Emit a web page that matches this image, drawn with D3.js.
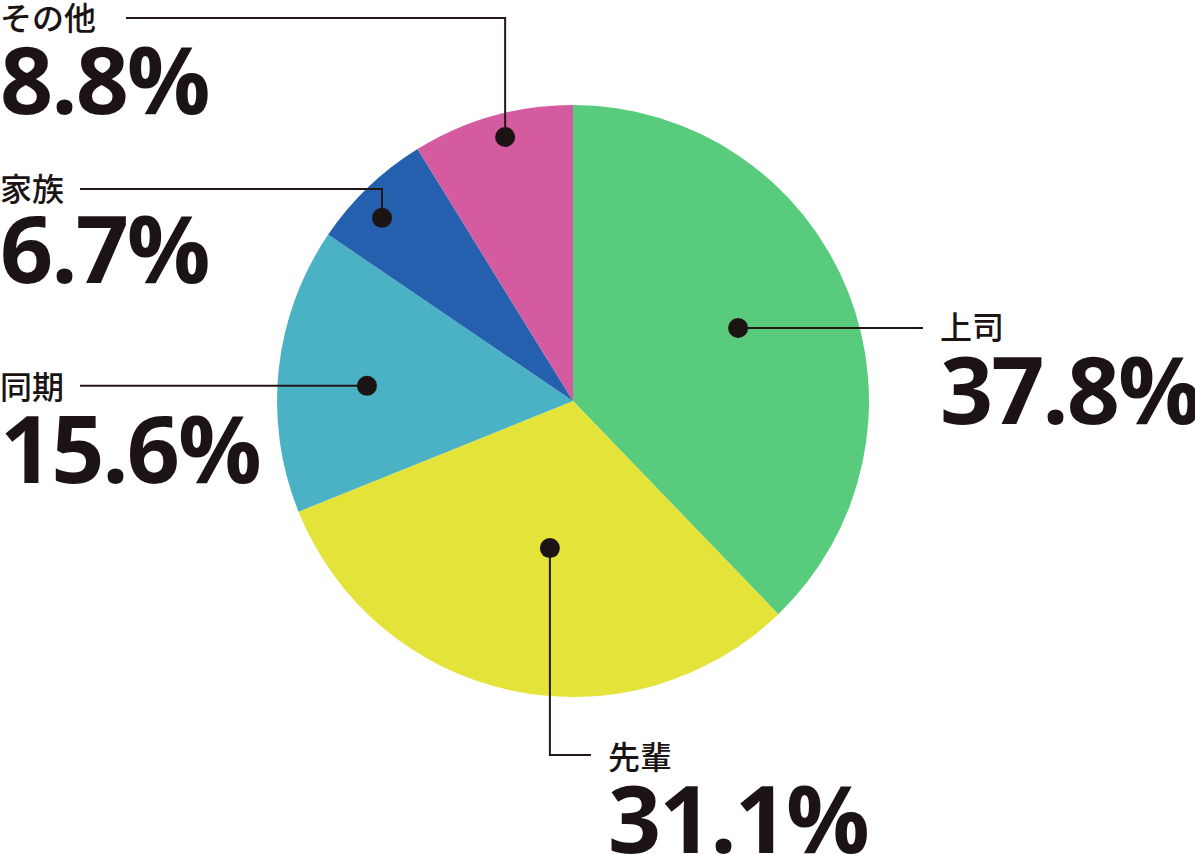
<!DOCTYPE html>
<html lang="ja">
<head>
<meta charset="utf-8">
<script src="https://cdn.jsdelivr.net/npm/d3@7"></script>
<style>
  html, body { margin: 0; padding: 0; background: #ffffff; }
  svg { display: block; }
</style>
</head>
<body>
<svg id="chart" width="1195" height="855"></svg>
<script>
// ---- data ----
const categories = ["上司", "先輩", "同期", "家族", "その他"];
const values = [37.8, 31.1, 15.6, 6.7, 8.8];
const valueLabels = ["37.8%", "31.1%", "15.6%", "6.7%", "8.8%"];
const colors = ["#58cb7d", "#e3e33a", "#4bb1c5", "#2460ad", "#d55ba1"];

// ---- layout (not data) ----
const W = 1195, H = 855;
const cx = 573, cy = 401, R = 296;
// where the marker dot sits inside each slice: fraction along the slice, fraction of radius
const dotPlace = [[0.486, 0.61], [0.472, 0.503], [0.466, 0.698], [0.398, 0.894], [0.545, 0.921]];
// label block anchors and leader routing
const labelLayout = [
  { type: "right", lineEnd: 923, x: 940, labelY: 339, valueY: 424 },
  { type: "down",  lineBottom: 755, lineEnd: 591, x: 608, labelY: 769, valueY: 853 },
  { type: "left",  lineStart: 80, x: 0, labelY: 399, valueY: 483 },
  { type: "elbow", lineY: 189, lineStart: 80, x: 0, labelY: 201, valueY: 283 },
  { type: "elbow", lineY: 18, lineStart: 126, x: 0, labelY: 30, valueY: 114 }
];
const textColor = "#1c1414";

const svg = d3.select("#chart");
const g = svg.append("g").attr("transform", `translate(${cx},${cy})`);

const pie = d3.pie().sort(null).value(d => d.v);
const data = categories.map((c, i) => ({ c, v: values[i], label: valueLabels[i], color: colors[i] }));
const arcs = pie(data);
const arcGen = d3.arc().innerRadius(0).outerRadius(R);

g.selectAll("path.slice").data(arcs).join("path")
  .attr("class", "slice")
  .attr("d", arcGen)
  .attr("fill", d => d.data.color);

// dot positions
const dots = arcs.map((a, i) => {
  const [t, rf] = dotPlace[i];
  const ang = a.startAngle + (a.endAngle - a.startAngle) * t;
  const r = R * rf;
  return [cx + r * Math.sin(ang), cy - r * Math.cos(ang)];
});

const lines = svg.append("g")
  .attr("fill", "none")
  .attr("stroke", "#231815")
  .attr("stroke-width", 2);

labelLayout.forEach((L, i) => {
  const [dx, dy] = dots[i];
  let pts;
  if (L.type === "right") pts = [[dx, dy], [L.lineEnd, dy]];
  else if (L.type === "down") pts = [[dx, dy], [dx, L.lineBottom], [L.lineEnd, L.lineBottom]];
  else if (L.type === "left") pts = [[L.lineStart, dy], [dx, dy]];
  else pts = [[L.lineStart, L.lineY], [dx, L.lineY], [dx, dy]];
  lines.append("path").attr("d", d3.line()(pts));
});

svg.append("g").selectAll("circle").data(dots).join("circle")
  .attr("cx", d => d[0]).attr("cy", d => d[1]).attr("r", 10)
  .attr("fill", "#1c1414");

const texts = svg.append("g").attr("fill", textColor);
labelLayout.forEach((L, i) => {
  texts.append("text")
    .attr("x", L.x).attr("y", L.labelY)
    .attr("font-family", "'Noto Sans CJK JP', sans-serif")
    .attr("font-size", 32)
    .attr("font-weight", 500)
    .text(categories[i]);
  texts.append("text")
    .attr("x", L.x).attr("y", L.valueY)
    .attr("font-family", "'Open Sans', sans-serif")
    .attr("font-size", 93)
    .attr("font-weight", 700)
    .attr("letter-spacing", -2)
    .text(valueLabels[i]);
});
</script>
</body>
</html>
